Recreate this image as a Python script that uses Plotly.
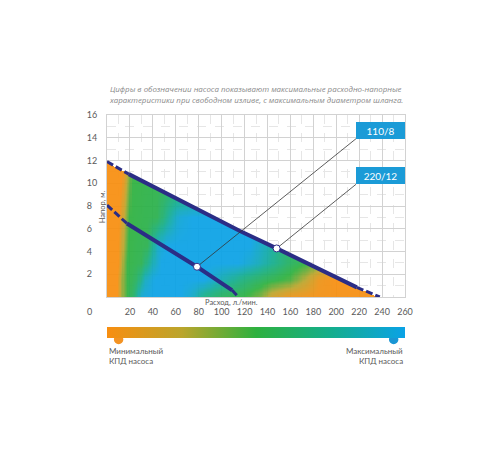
import numpy as np
import plotly.graph_objects as go

# ---------------- data ----------------
# Pump 220/12 characteristic (upper curve)
upper_x = [0, 19, 116, 148, 218, 238]
upper_y = [11.9, 10.8, 5.8, 4.27, 0.85, 0]
# Pump 110/8 characteristic (lower curve)
lower_x = [0, 17.4, 48, 78.5, 109, 114.7]
lower_y = [8.07, 6.46, 4.56, 2.66, 0.61, 0]

model_labels = ["110/8", "220/12"]
label_corner_x = [217.3, 217.3]
label_corner_y = [13.92, 9.91]

x_ticks = [20, 40, 60, 80, 100, 120, 140, 160, 180, 200, 220, 240, 260]
y_ticks = [2, 4, 6, 8, 10, 12, 14, 16]

# efficiency level (0 = minimal, 1 = maximal) read along rows of constant head
eff_row_y = [0, 1.5, 3, 4.5, 7, 10, 12]
eff_row_0 = [(0, 0), (9, 0), (13, 0.3), (18, 0.5), (24, 0.65), (30, 0.95), (40, 1), (65, 1), (75, 0.9),
             (85, 0.7), (100, 0.58), (120, 0.5), (135, 0.35), (145, 0.15), (160, 0.03), (240, 0)]
eff_row_1 = [(0, 0), (9, 0), (13, 0.3), (18, 0.5), (26, 0.6), (34, 0.9), (42, 1), (85, 1), (100, 0.85),
             (120, 0.68), (140, 0.55), (160, 0.45), (175, 0.22), (185, 0.05), (200, 0), (240, 0)]
eff_row_2 = [(0, 0), (10, 0), (14, 0.3), (18, 0.5), (30, 0.55), (40, 0.85), (48, 1), (115, 1), (130, 0.9),
             (145, 0.75), (160, 0.6), (175, 0.5), (190, 0.35), (205, 0.1), (215, 0), (240, 0)]
eff_row_3 = [(0, 0), (10, 0), (15, 0.3), (19, 0.5), (35, 0.55), (44, 0.9), (52, 1), (125, 1), (140, 0.85),
             (150, 0.72), (165, 0.6), (240, 0.5)]
eff_row_4 = [(0, 0), (11, 0), (16, 0.3), (20, 0.5), (44, 0.55), (55, 0.8), (63, 0.95), (75, 1), (240, 1)]
eff_row_5 = [(0, 0), (13, 0), (18, 0.3), (22, 0.5), (55, 0.55), (240, 0.65)]
eff_row_6 = [(0, 0), (15, 0), (20, 0.3), (25, 0.5), (240, 0.5)]
eff_rows = [eff_row_0, eff_row_1, eff_row_2, eff_row_3, eff_row_4, eff_row_5, eff_row_6]

# ---------------- styles ----------------
NAVY = "#2b2d86"
BOX = "#1b9bd7"
TXT = "#5a5a5a"
colorscale = [[0.0, "#F88E10"], [0.25, "#BBA52C"], [0.5, "#2EB13F"], [0.75, "#14AE8C"], [1.0, "#0AA2E6"]]

# ---------------- efficiency field under the upper curve ----------------
gx = np.arange(0, 240.5, 1.0)
gy = np.round(np.arange(0, 12.01, 0.1), 2)
R = np.array([np.interp(gx, [p[0] for p in r], [p[1] for p in r]) for r in eff_rows])
field = np.empty((len(gy), len(gx)))
for i in range(len(gx)):
    field[:, i] = np.interp(gy, eff_row_y, R[:, i])
top = np.interp(gx, upper_x, upper_y)
field[gy[:, None] > top[None, :]] = np.nan

fig = go.Figure()
fig.add_trace(go.Heatmap(
    x=gx, y=gy, z=field, zmin=0, zmax=1, colorscale=colorscale, opacity=0.93,
    hoverinfo="skip",
    colorbar=dict(orientation="h", x=0, xanchor="left", y=-0.224, yanchor="bottom",
                  len=298, lenmode="pixels", thickness=11, thicknessmode="pixels",
                  outlinewidth=0, borderwidth=0, showticklabels=False, ticks="",
                  xpad=0, ypad=0),
))

def add_curve(xs, ys):
    # dashed start, solid middle, dashed end
    fig.add_trace(go.Scatter(x=xs[0:2], y=ys[0:2], mode="lines",
                             line=dict(color=NAVY, width=3, dash="7px,3px"), hoverinfo="skip"))
    fig.add_trace(go.Scatter(x=xs[1:5], y=ys[1:5], mode="lines",
                             line=dict(color=NAVY, width=4), hoverinfo="skip"))
    fig.add_trace(go.Scatter(x=xs[4:6], y=ys[4:6], mode="lines",
                             line=dict(color=NAVY, width=3, dash="7px,3px"), hoverinfo="skip"))

add_curve(upper_x, upper_y)
add_curve(lower_x, lower_y)

# leader lines from marked points to model labels
pts_x = [lower_x[3], upper_x[3]]
pts_y = [lower_y[3], upper_y[3]]
for k in range(2):
    fig.add_trace(go.Scatter(x=[pts_x[k], label_corner_x[k]], y=[pts_y[k], label_corner_y[k]],
                             mode="lines", line=dict(color="#333333", width=0.8), hoverinfo="skip"))
fig.add_trace(go.Scatter(x=pts_x, y=pts_y, mode="markers",
                         marker=dict(size=7, color="white", line=dict(color=NAVY, width=1)),
                         hoverinfo="skip"))

annotations = []
for k in range(2):
    annotations.append(dict(x=label_corner_x[k], y=label_corner_y[k], xref="x", yref="y",
                            xanchor="left", yanchor="bottom", text=model_labels[k], showarrow=False,
                            bgcolor=BOX, width=45, height=13, borderpad=2, borderwidth=0,
                            font=dict(family="Lato", size=10, color="white")))

header1 = "Цифры в обозначении насоса показывают максимальные расходно-напорные"
header2 = "характеристики при свободном изливе, с максимальным диаметром шланга."
for txt, yy in [(header1, 1.143), (header2, 1.080)]:
    annotations.append(dict(x=0.501, y=yy, xref="paper", yref="paper", xanchor="center", yanchor="middle",
                            text="<i>" + txt + "</i>", showarrow=False,
                            font=dict(family="Open Sans", size=7.9, color="#8a8a8a")))

annotations.append(dict(x=-0.014, y=0.497, xref="paper", yref="paper", text="Напор, м.", textangle=-90,
                        showarrow=False, xanchor="center", yanchor="middle",
                        font=dict(family="Lato", size=7.5, color=TXT)))
annotations.append(dict(x=0.417, y=-0.0275, xref="paper", yref="paper", text="Расход, л./мин.",
                        showarrow=False, xanchor="center", yanchor="middle",
                        font=dict(family="Lato", size=7.5, color=TXT)))
annotations.append(dict(x=0, y=0, xref="paper", yref="paper", text="0", showarrow=False,
                        xanchor="right", yanchor="middle", xshift=-13, yshift=-14,
                        font=dict(family="Lato", size=9, color=TXT)))
for txt, yy in [("Минимальный", -0.299), ("КПД насоса", -0.349)]:
    annotations.append(dict(x=0, y=yy, xref="paper", yref="paper", text=txt, showarrow=False,
                            xanchor="left", yanchor="middle", font=dict(family="Lato", size=8, color=TXT)))
for txt, yy in [("Максимальный", -0.299), ("КПД насоса", -0.349)]:
    annotations.append(dict(x=1.0, y=yy, xref="paper", yref="paper", text=txt, showarrow=False,
                            xanchor="right", yanchor="middle", font=dict(family="Lato", size=8, color=TXT)))

shapes = []
for cx, cy, col in [(0.039, -0.2335, "#F39323"), (0.962, -0.2335, "#1a96d4")]:
    shapes.append(dict(type="circle", xref="paper", yref="paper", xsizemode="pixel", ysizemode="pixel",
                       xanchor=cx, yanchor=cy, x0=-5.5, x1=5.5, y0=-5.5, y1=5.5,
                       fillcolor=col, line=dict(color="white", width=1.5), layer="above"))

fig.update_layout(
    width=500, height=450, margin=dict(l=107, r=95, t=115, b=153),
    paper_bgcolor="white", plot_bgcolor="white", showlegend=False,
    annotations=annotations, shapes=shapes,
    xaxis=dict(range=[0, 260], tickmode="array", tickvals=x_ticks, ticktext=[str(v) for v in x_ticks],
               showgrid=True, gridcolor="#d2d2d2", gridwidth=1, zeroline=False,
               showline=True, mirror=True, linecolor="#d2d2d2", linewidth=1,
               ticks="", ticklabelstandoff=6, tickfont=dict(family="Lato", size=9, color=TXT),
               minor=dict(tickmode="linear", tick0=0, dtick=10, showgrid=True, griddash="dash",
                          gridcolor="#e6e6e6", gridwidth=1)),
    yaxis=dict(range=[0, 16], tickmode="array", tickvals=y_ticks,
               ticktext=[str(v) if v >= 10 else str(v) + "\u2007" for v in y_ticks],
               showgrid=True, gridcolor="#d2d2d2", gridwidth=1, zeroline=False,
               showline=True, mirror=True, linecolor="#d2d2d2", linewidth=1,
               ticks="", ticklabelstandoff=7, tickfont=dict(family="Lato", size=9, color=TXT),
               minor=dict(tickmode="linear", tick0=0, dtick=1, showgrid=True, griddash="dash",
                          gridcolor="#e6e6e6", gridwidth=1)),
)

fig.write_html("out.html")
